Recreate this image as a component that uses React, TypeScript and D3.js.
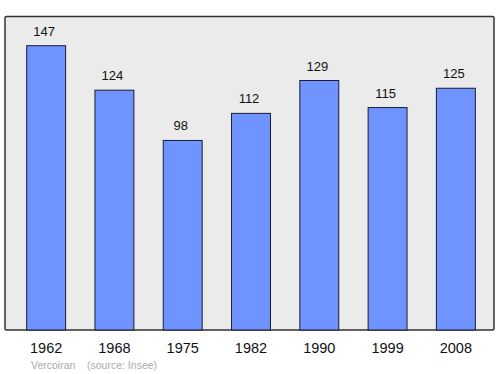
import React from "react";
import * as d3 from "d3";

const years = ["1962", "1968", "1975", "1982", "1990", "1999", "2008"];
const population = [147, 124, 98, 112, 129, 115, 125];
const sourceLabel = "Vercoiran    (source: Insee)";

export default function App() {
  const W = 500, H = 374;
  const left = 5, right = 494, top = 16.5, bottom = 330;
  const x = d3.scaleBand<string>().domain(years).range([12, 490]).paddingInner(0.43).paddingOuter(0.215);
  const y = d3.scaleLinear().domain([0, 147]).range([bottom, 45.7]);
  const font = "'Liberation Sans', Arial, sans-serif";
  return (
    <svg width={W} height={H} style={{ position: "absolute", left: 0, top: 0 }}>
      <rect x={0} y={0} width={W} height={H} fill="#fff" />
      <rect x={left} y={top} width={right - left} height={bottom - top} fill="#ebebeb" stroke="#333" strokeWidth={1.5} rx={1.5} />
      {years.map((yr, i) => {
        const bx = x(yr)!;
        const v = population[i];
        return (
          <g key={yr}>
            <rect x={bx} y={y(v)} width={x.bandwidth()} height={bottom - y(v)} fill="#7094ff" stroke="#1a1a33" strokeWidth={1} />
            <text x={bx + x.bandwidth() / 2 - 2} y={y(v) - 10} textAnchor="middle" fontFamily={font} fontSize={13} fill="#111">{v}</text>
            <text x={bx + x.bandwidth() / 2} y={353} textAnchor="middle" fontFamily={font} fontSize={14.5} fill="#111">{yr}</text>
          </g>
        );
      })}
      <text x={31} y={369} fontFamily={font} fontSize={10.5} fill="#aaa" style={{ whiteSpace: "pre" }}>{sourceLabel}</text>
    </svg>
  );
}
